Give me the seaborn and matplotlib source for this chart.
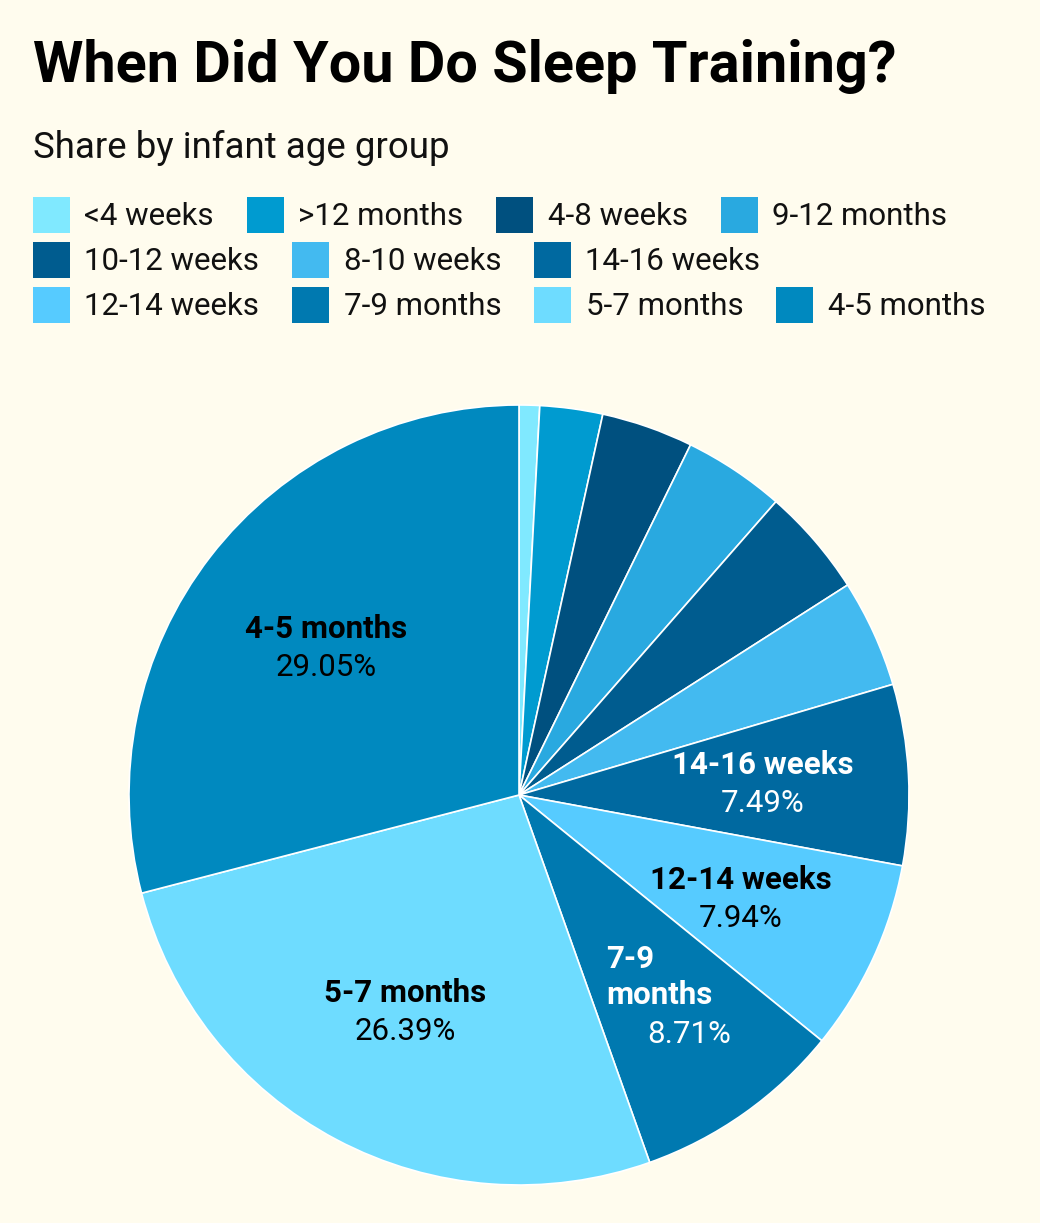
import matplotlib.pyplot as plt
import matplotlib.patches as mpatches
import numpy as np
import seaborn as sns

sns.set_theme(style="white")
plt.rcParams["font.family"] = ["Roboto", "DejaVu Sans"]

BG = "#FFFCEE"
W, H = 1040, 1223

# slices, clockwise from 12 o'clock
categories = ["<4 weeks", ">12 months", "4-8 weeks", "9-12 months", "10-12 weeks",
              "8-10 weeks", "14-16 weeks", "12-14 weeks", "7-9 months",
              "5-7 months", "4-5 months"]
shares = [0.85, 2.60, 3.80, 4.20, 4.50, 4.47, 7.49, 7.94, 8.71, 26.39, 29.05]
colors = ["#80E9FF", "#009BD0", "#00507F", "#29A9E0", "#005C8F", "#43BAF0",
          "#0069A0", "#56CBFF", "#0079B0", "#6EDCFF", "#0089BF"]

legend_rows = [
    ["<4 weeks", ">12 months", "4-8 weeks", "9-12 months"],
    ["10-12 weeks", "8-10 weeks", "14-16 weeks"],
    ["12-14 weeks", "7-9 months", "5-7 months", "4-5 months"],
]

# in-slice labels (only the bigger slices are labelled)
slice_names = {
    "14-16 weeks": "14-16 weeks",
    "12-14 weeks": "12-14 weeks",
    "7-9 months": "7-9\nmonths",
    "5-7 months": "5-7 months",
    "4-5 months": "4-5 months",
}
label_colors = {
    "14-16 weeks": "white",
    "12-14 weeks": "black",
    "7-9 months": "white",
    "5-7 months": "black",
    "4-5 months": "black",
}
pct_shift = {"7-9 months": 21}

color_of = dict(zip(categories, colors))

fig = plt.figure(figsize=(W / 100, H / 100), dpi=100, facecolor=BG)

# pie axes: centre (519, 795) px, radius 390 px
cx, cy, R = 519, 795, 390
ax = fig.add_axes([(cx - R) / W, (H - cy - R) / H, 2 * R / W, 2 * R / H])
ax.set_facecolor(BG)
wedges, _ = ax.pie(
    shares,
    colors=colors,
    startangle=90,
    counterclock=False,
    wedgeprops=dict(edgecolor="white", linewidth=1.2),
)
ax.set_xlim(-1, 1)
ax.set_ylim(-1, 1)
ax.set_aspect("equal")

pitch = 27.5  # points between label lines
for wedge, cat, val in zip(wedges, categories, shares):
    if cat not in slice_names:
        continue
    mid = np.deg2rad((wedge.theta1 + wedge.theta2) / 2)
    x, y = 0.625 * np.cos(mid), 0.625 * np.sin(mid)
    name = slice_names[cat]
    k = name.count("\n") + 1
    n = k + 1
    offsets = [((n - 1) / 2 - i) * pitch for i in range(n)]
    name_off = np.mean(offsets[:k])
    col = label_colors[cat]
    ax.annotate(name, xy=(x, y), xytext=(0, name_off - 1.5), textcoords="offset points",
                ha="center", va="center", multialignment="left", linespacing=1.28,
                fontsize=22.5, fontweight="bold", color=col)
    ax.annotate(f"{val:.2f}%", xy=(x, y), xytext=(pct_shift.get(cat, 0), offsets[-1] - 1.5),
                textcoords="offset points", ha="center", va="center",
                fontsize=22.5, color=col)

fig.text(33 / W, 1 - 82 / H, "When Did You Do Sleep Training?", fontsize=41.5,
         fontweight="bold", ha="left", va="baseline", color="black")
fig.text(33 / W, 1 - 158 / H, "Share by infant age group", fontsize=26.4,
         ha="left", va="baseline", color="#111111")

for r, row in enumerate(legend_rows):
    handles = [mpatches.Patch(facecolor=color_of[c], edgecolor="none") for c in row]
    leg = fig.legend(
        handles, row,
        loc="center left",
        bbox_to_anchor=(33 / W, 1 - (215 + 45 * r) / H),
        ncol=len(row),
        frameon=False,
        fontsize=22.5,
        handlelength=1.18,
        handleheight=1.43,
        handletextpad=0.46,
        columnspacing=1.06,
        borderpad=0,
        borderaxespad=0,
    )
    for t in leg.get_texts():
        t.set_color("#111111")

fig.savefig("out.png", dpi=100, facecolor=BG)
